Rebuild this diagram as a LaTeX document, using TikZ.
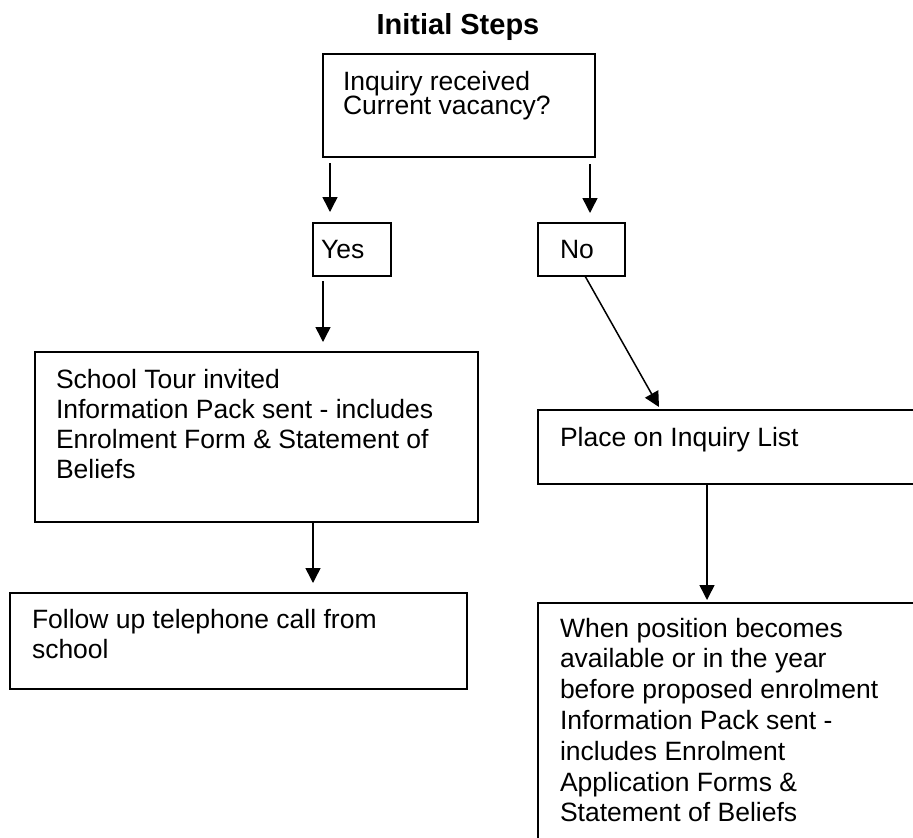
\documentclass[tikz,border=0pt]{standalone}
\usepackage{fontspec}
\setmainfont{Liberation Sans}
\usetikzlibrary{arrows.meta}
\newcommand\mylines[1]{\vtop{\lineskiplimit=-60pt\lineskip=0pt #1}}
\tikzset{
  box/.style={draw=black, line width=1.7pt, inner sep=0pt, outer sep=0pt, anchor=north west, fill=none},
  txt/.style={inner sep=0pt, outer sep=0pt, anchor=base west,
    font=\fontsize{26.5}{30.5}\selectfont},
  arr/.style={line width=1.5pt, -{Triangle[width=15pt,length=15pt]}},
}
\begin{document}
\begin{tikzpicture}[x=1pt,y=-1pt]
\useasboundingbox (0,0) rectangle (913,838);
\clip (0,0) rectangle (913,838);

\node[inner sep=0pt, anchor=base, font=\bfseries\fontsize{29}{32}\selectfont] (title) at (458,34) {Initial Steps};

% boxes
\node[box, minimum width=272pt, minimum height=103pt] (top) at (323,54) {};
\node[box, minimum width=78pt, minimum height=53pt] (yes) at (313,223) {};
\node[box, minimum width=87pt, minimum height=53pt] (no) at (538,223) {};
\node[box, minimum width=443pt, minimum height=170pt] (school) at (35,352) {};
\node[box, minimum width=457pt, minimum height=96pt] (follow) at (10,593) {};
\node[box, minimum width=392pt, minimum height=74pt] (place) at (538,410) {};
\node[box, minimum width=392pt, minimum height=257pt] (when) at (538,603) {};

% texts
\node[txt, font=\fontsize{26.5}{24}\selectfont] (toptext) at (343,90)
  {\mylines{\hbox{Inquiry received}\hbox{Current vacancy?}}};
\node[txt] (yestext) at (321,258) {Yes};
\node[txt] (notext) at (560,258) {No};
\node[txt, font=\fontsize{26.5}{30.3}\selectfont] (schooltext) at (56,388)
  {\mylines{\hbox{School Tour invited}\hbox{Information Pack sent - includes}\hbox{Enrolment Form \& Statement of}\hbox{Beliefs}}};
\node[txt, font=\fontsize{26.5}{30}\selectfont] (followtext) at (32,628)
  {\mylines{\hbox{Follow up telephone call from}\hbox{school}}};
\node[txt] (placetext) at (560,446) {Place on Inquiry List};
\node[txt, font=\fontsize{26.5}{30.8}\selectfont] (whentext) at (560,637)
  {\mylines{\hbox{When position becomes}\hbox{available or in the year}\hbox{before proposed enrolment}\hbox{Information Pack sent -}\hbox{includes Enrolment}\hbox{Application Forms \&}\hbox{Statement of Beliefs}}};

% connectors
\draw[arr] ([xshift=7pt,yshift=-6pt]top.south west) -- ([xshift=17pt,yshift=11pt]yes.north west);
\draw[arr] ([xshift=-5pt,yshift=-7pt]top.south east) -- ([xshift=52pt,yshift=10pt]no.north west);
\draw[arr] ([xshift=10pt,yshift=-5pt]yes.south west) -- ([xshift=288pt,yshift=10pt]school.north west);
\draw[arr] ([xshift=278pt]school.south west) -- ([xshift=303pt,yshift=10pt]follow.north west);
\draw[arr] ([xshift=47pt]no.south west) -- ([xshift=121pt,yshift=3pt]place.north west);
\draw[arr] ([xshift=169pt]place.south west) -- ([xshift=169pt,yshift=3pt]when.north west);
\end{tikzpicture}
\end{document}
